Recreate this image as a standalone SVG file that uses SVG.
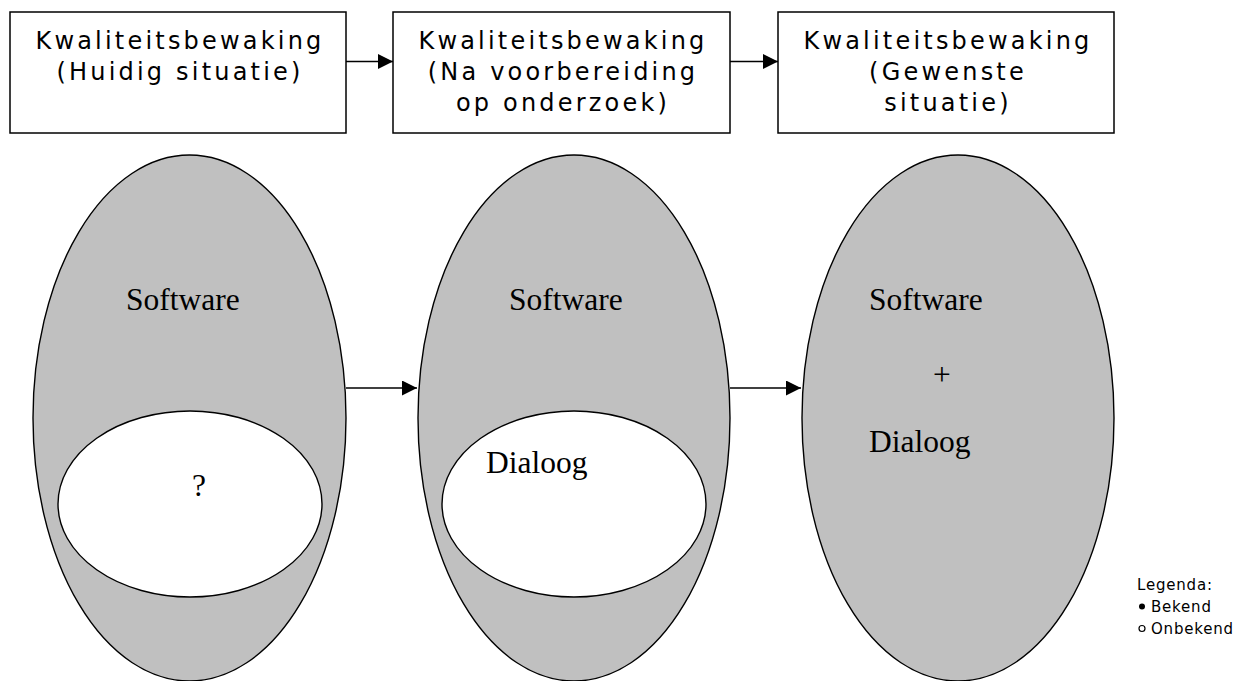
<svg xmlns="http://www.w3.org/2000/svg" width="1255" height="681" viewBox="0 0 1255 681">
<style>
.box{fill:#fff;stroke:#000;stroke-width:1.5}
.big{fill:#c0c0c0;stroke:#000;stroke-width:1.4}
.inner{fill:#fff;stroke:#000;stroke-width:1.4}
.bt{font-family:"DejaVu Sans","Liberation Sans",sans-serif;font-size:24px;letter-spacing:3.2px;fill:#000;text-anchor:middle}
.st{font-family:"Liberation Serif","Times New Roman",serif;font-size:31.5px;fill:#000}
.lg{font-family:"DejaVu Sans","Liberation Sans",sans-serif;font-size:15px;letter-spacing:0.8px;fill:#000}
.conn{stroke:#000;stroke-width:1.4;fill:none}
</style>
<defs>
<marker id="ah" markerWidth="15" markerHeight="15" refX="15" refY="7.5" orient="auto" markerUnits="userSpaceOnUse">
<path d="M0,0 L15,7.5 L0,15 Z" fill="#000"/>
</marker>
</defs>
<rect width="1255" height="681" fill="#fff"/>
<g id="box1">
<rect class="box" x="10" y="12" width="336" height="121"/>
<text class="bt" x="180" y="49">Kwaliteitsbewaking</text>
<text class="bt" x="180" y="80">(Huidig situatie)</text>
</g>
<g id="box2">
<rect class="box" x="393" y="12" width="337" height="121"/>
<text class="bt" x="563" y="49">Kwaliteitsbewaking</text>
<text class="bt" x="563" y="80">(Na voorbereiding</text>
<text class="bt" x="563" y="111">op onderzoek)</text>
</g>
<g id="box3">
<rect class="box" x="778" y="12" width="336" height="121"/>
<text class="bt" x="948" y="49">Kwaliteitsbewaking</text>
<text class="bt" x="948" y="80">(Gewenste</text>
<text class="bt" x="948" y="111">situatie)</text>
</g>
<g id="ellipse1">
<ellipse class="big" cx="189.5" cy="418" rx="156.5" ry="263"/>
<text class="st" x="126" y="310">Software</text>
<ellipse class="inner" cx="190" cy="504" rx="132" ry="93"/>
<text class="st" x="192" y="496">?</text>
</g>
<g id="ellipse2">
<ellipse class="big" cx="574" cy="418" rx="156" ry="263"/>
<text class="st" x="509" y="310">Software</text>
<ellipse class="inner" cx="574" cy="504" rx="132" ry="93"/>
<text class="st" x="486" y="473">Dialoog</text>
</g>
<g id="ellipse3">
<ellipse class="big" cx="958" cy="418" rx="156" ry="263"/>
<text class="st" x="869" y="310">Software</text>
<text class="st" x="933" y="385">+</text>
<text class="st" x="869" y="452">Dialoog</text>
</g>
<g id="legend">
<text class="lg" x="1137" y="590" letter-spacing="0.3">Legenda:</text>
<circle cx="1142" cy="606.5" r="3" fill="#000"/>
<text class="lg" x="1151" y="612">Bekend</text>
<circle cx="1142" cy="628.5" r="3" fill="none" stroke="#000" stroke-width="1.2"/>
<text class="lg" x="1151" y="634">Onbekend</text>
</g>
<g id="connectors">
<line class="conn" x1="346" y1="61.5" x2="393" y2="61.5" marker-end="url(#ah)"/>
<line class="conn" x1="730" y1="61.5" x2="778" y2="61.5" marker-end="url(#ah)"/>
<line class="conn" x1="346" y1="388" x2="417" y2="388" marker-end="url(#ah)"/>
<line class="conn" x1="730" y1="388" x2="801" y2="388" marker-end="url(#ah)"/>
</g>
</svg>
